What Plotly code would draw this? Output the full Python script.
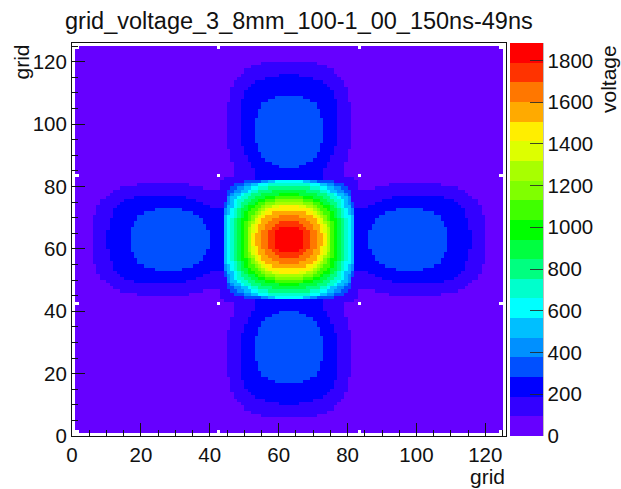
import plotly.graph_objects as go

TITLE = "grid_voltage_3_8mm_100-1_00_150ns-49ns"
N_BINS = 126
BAND_WIDTH = 94.15
Z_MAX = 1883
COLORBAR_TICKS = [0, 200, 400, 600, 800, 1000, 1200, 1400, 1600, 1800]
BAND_COLORS = ["#6600ff", "#3300ff", "#0000ff", "#0050ff", "#0090ff", "#00bfff", "#00ffff",
               "#00ffcc", "#00ff80", "#00ff40", "#00ff00", "#40ff00", "#80ff00", "#a8ff00",
               "#ddff00", "#ffee00", "#ffaa00", "#ff7700", "#ff3300", "#ff0000"]

# Half-width (in bins) of the region at or above each band, read row by row outward from the centre.
CENTRE = {
    3: [19, 19, 19, 19, 19, 19, 19, 19, 19, 19, 19, 19, 18, 18, 18, 18, 17, 16, 13],
    4: [19, 19, 19, 19, 19, 19, 19, 19, 19, 19, 18, 18, 18, 18, 17, 16, 15, 13, 8],
    5: [19, 19, 19, 19, 19, 19, 19, 19, 18, 18, 18, 17, 17, 17, 16, 14, 13, 11, 6],
    6: [18, 18, 18, 18, 18, 18, 18, 18, 17, 17, 16, 16, 16, 15, 14, 12, 11, 9, 4],
    7: [17, 17, 17, 17, 17, 17, 17, 16, 16, 16, 15, 15, 15, 14, 13, 11, 9, 6],
    8: [16, 16, 16, 16, 16, 16, 16, 15, 15, 15, 14, 14, 13, 12, 11, 9, 6],
    9: [15, 15, 15, 15, 15, 15, 15, 14, 14, 14, 13, 12, 11, 10, 8, 5],
    10: [14, 14, 14, 14, 14, 14, 14, 13, 13, 12, 12, 10, 9, 7, 3],
    11: [13, 13, 13, 13, 13, 13, 12, 12, 12, 11, 10, 9, 7, 4],
    12: [12, 12, 12, 12, 12, 12, 11, 11, 10, 9, 8, 7, 4],
    13: [12, 12, 12, 12, 11, 11, 10, 10, 9, 8, 7, 4],
    14: [11, 11, 11, 11, 11, 10, 10, 9, 8, 7, 5],
    15: [11, 11, 10, 10, 10, 9, 9, 8, 7, 6, 3],
    16: [10, 10, 9, 9, 9, 8, 8, 7, 5],
    17: [8, 8, 8, 7, 7, 6, 5, 3],
    18: [6, 6, 6, 5, 4, 3],
    19: [4, 4, 4, 3],
}
# Arm half-widths by distance from the centre (band 1 and band 2 outlines).
ARM_BAND1 = [16] * 17 + [19, 19, 19] + [16, 16, 16, 16, 16] + [17, 17, 17, 17] + [18] * 15 + \
            [17, 17, 17, 17, 17, 16, 16, 15, 14, 13, 13, 11, 8]
ARM_BAND2 = [10] * 23 + [11, 11, 12, 12, 13, 13, 13] + [14] * 15 + [13, 13, 13, 12, 11, 10, 7, 3]
# The oval of band 3 in each arm, starting at 23 bins from the centre.
OVAL_START = 23
OVAL_BAND3 = [3, 5, 7, 8, 8, 9, 9, 9, 10, 10, 10, 10, 10, 10, 10, 10, 9, 9, 9, 8, 8, 6, 4]
# Bins left empty (white): electrode points and the notches at the frame.
EMPTY_DOTS = [42, 83]
EMPTY_CORNERS = [1, 124]


def band_at(dx, dy):
    band = 0
    for arm, level in ((ARM_BAND1, 1), (ARM_BAND2, 2)):
        if (dy < len(arm) and dx < arm[dy]) or (dx < len(arm) and dy < arm[dx]):
            band = level
    for a, b in ((dx, dy), (dy, dx)):
        i = b - OVAL_START
        if 0 <= i < len(OVAL_BAND3) and a < OVAL_BAND3[i]:
            band = 3
    for level, widths in CENTRE.items():
        if dy < len(widths) and dx < widths[dy]:
            band = max(band, level)
    return band


z = []
for row in range(N_BINS):
    dy = row - 63 if row >= 63 else 62 - row
    line = []
    for col in range(N_BINS):
        dx = col - 63 if col >= 63 else 62 - col
        line.append((band_at(dx, dy) + 0.5) * BAND_WIDTH)
    z.append(line)

for i in range(N_BINS):
    z[0][i] = z[N_BINS - 1][i] = z[i][0] = z[i][N_BINS - 1] = None
for a in EMPTY_DOTS:
    for b in EMPTY_DOTS:
        z[a][b] = None
    for edge in EMPTY_CORNERS:
        z[a][edge] = None
        z[edge][a] = None
for a in EMPTY_CORNERS:
    for b in EMPTY_CORNERS:
        z[a][b] = None

colorscale = []
n = len(BAND_COLORS)
for i, c in enumerate(BAND_COLORS):
    colorscale.append([i / n, c])
    colorscale.append([(i + 1) / n, c])

W, H = 621, 489
L, R, T, B = 72, 506, 43, 436
FONT = "Liberation Sans"

fig = go.Figure(go.Heatmap(
    z=z, x0=0.5, dx=1, y0=0.5, dy=1, zmin=0, zmax=Z_MAX, colorscale=colorscale,
    hoverongaps=False,
    colorbar=dict(
        thickness=33, thicknessmode="pixels", x=510 / W, xanchor="left", xpad=0, ypad=0,
        y=(H - B) / H, yanchor="bottom", len=(B - T) / H, lenmode="fraction",
        tickmode="array", tickvals=COLORBAR_TICKS, ticks="inside", ticklen=13,
        tickcolor="rgba(40,40,40,0.85)", tickwidth=1, outlinewidth=0,
        tickfont=dict(family=FONT, size=20.5, color="#111111"),
    ),
))

axis = dict(
    range=[0, N_BINS], dtick=20, tick0=0, ticks="inside", ticklen=13, tickwidth=1, tickcolor="#111111",
    minor=dict(dtick=5, tick0=0, ticks="inside", ticklen=6, tickwidth=1, tickcolor="#111111", showgrid=False),
    showgrid=False, zeroline=False, showline=True, mirror=True, linecolor="#111111", linewidth=1,
    tickfont=dict(family=FONT, size=20.5, color="#111111"), automargin=False,
)
fig.update_layout(
    width=W, height=H, margin=dict(l=0, r=0, t=0, b=0), paper_bgcolor="white", plot_bgcolor="white",
    xaxis=dict(axis, domain=[L / W, R / W]),
    yaxis=dict(axis, domain=[(H - B) / H, (H - T) / H]),
    title=dict(text=TITLE, x=65 / W, xanchor="left", xref="paper", y=1 - 21 / H, yanchor="middle",
               yref="container", font=dict(family=FONT, size=23.5, color="#111111")),
    shapes=[dict(type="line", xref="paper", yref="paper", x0=543 / W, x1=543 / W, y0=(H - B) / H, y1=(H - T) / H,
                 line=dict(color="rgba(40,40,40,0.6)", width=1))],
    annotations=[
        dict(text="grid", xref="paper", yref="paper", x=507 / W, y=1 - 463 / H, xanchor="right", yanchor="top",
             showarrow=False, font=dict(family=FONT, size=21, color="#111111")),
        dict(text="grid", xref="paper", yref="paper", x=21 / W, y=1 - 43 / H, xanchor="center", yanchor="top",
             textangle=-90, showarrow=False, font=dict(family=FONT, size=21, color="#111111")),
        dict(text="voltage", xref="paper", yref="paper", x=608 / W, y=1 - 43 / H, xanchor="center", yanchor="top",
             textangle=-90, showarrow=False, font=dict(family=FONT, size=21, color="#111111")),
    ],
)
fig.write_html("out.html", config=dict(displayModeBar=False),
               post_script="document.body.style.margin='0';document.body.style.overflow='hidden';")
